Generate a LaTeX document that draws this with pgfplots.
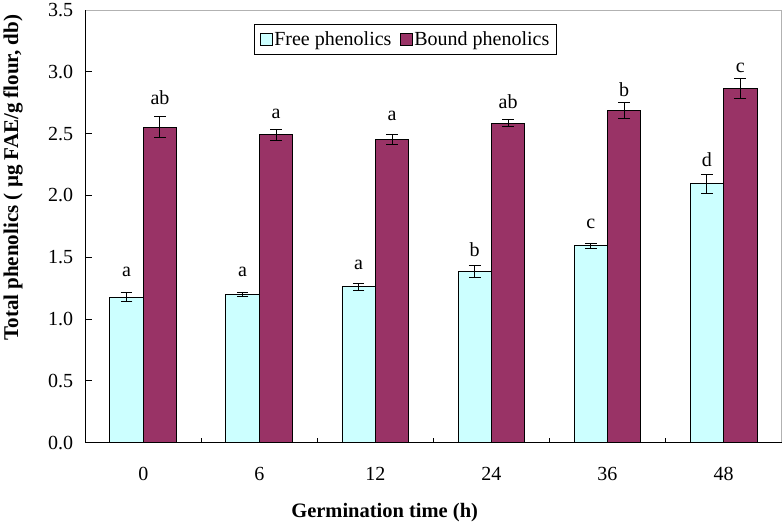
\documentclass[border=0pt]{standalone}
\usepackage{fontspec}
\setmainfont{Liberation Serif}
\usepackage{pgfplots}
\pgfplotsset{compat=1.18}
\usepackage{pgfplotstable}
\definecolor{freec}{HTML}{CCFFFF}
\definecolor{boundc}{HTML}{993366}

\pgfplotstableread{
x y e
-0.144 1.177 0.037
0.856 1.199 0.019
1.856 1.260 0.030
2.856 1.385 0.050
3.856 1.593 0.020
4.856 2.094 0.079
}\freetab

\pgfplotstableread{
x y e
0.144 2.553 0.088
1.144 2.490 0.045
2.144 2.455 0.040
3.144 2.586 0.027
4.144 2.689 0.065
5.144 2.866 0.078
}\boundtab

\pgfplotstableread{
x y l
-0.144 1.38 a
0.856 1.38 a
1.856 1.44 a
2.856 1.56 b
3.856 1.77 c
4.856 2.29 d
}\freelab

\pgfplotstableread{
x y l
0.144 2.79 ab
1.144 2.66 a
2.144 2.64 a
3.144 2.76 ab
4.144 2.86 b
5.144 3.03 c
}\boundlab

\begin{document}
\begin{tikzpicture}
\begin{axis}[
  width=694bp, height=431bp, scale only axis,
  xmin=-0.5, xmax=5.5, ymin=0, ymax=3.5,
  axis line style={draw=gray!60, line width=0.8bp},
  xtick={0,1,2,3,4,5}, xticklabels={0,6,12,24,36,48},
  major x tick style={draw=none},
  minor xtick={0.5,1.5,2.5,3.5,4.5},
  minor x tick style={black, line width=0.8bp},
  xtick pos=bottom, ytick pos=left,
  xtick align=inside, ytick align=inside,
  ytick={0,0.5,1,1.5,2,2.5,3,3.5},
  y tick style={black, line width=0.8bp},
  major tick length=6.5bp, minor tick length=5bp,
  /pgf/number format/assume math mode=true,
  y tick label style={/pgf/number format/fixed, /pgf/number format/fixed zerofill, /pgf/number format/precision=1, xshift=-8.5bp},
  tick label style={font=\fontsize{20}{24}\selectfont},
  xticklabel style={yshift=-21bp},
  ylabel={Total phenolics ( µg FAE/g flour, db)},
  ylabel style={at={(axis description cs:-0.1037,0.6125)}, anchor=center, font=\fontsize{21}{25}\selectfont\bfseries},
  xlabel={Germination time (h)},
  xlabel style={at={(axis description cs:0.430,-0.1624)}, anchor=center, font=\fontsize{20.5}{24}\selectfont\bfseries},
  legend columns=2,
  legend style={at={(axis description cs:0.2425,0.9675)}, anchor=north west, draw=black, line width=0.8bp,
    font=\fontsize{20}{24}\selectfont, inner xsep=5bp, inner ysep=5bp,
    /tikz/every even column/.append style={column sep=6bp}},
  legend image code/.code={\draw[#1, line width=0.8bp] (0bp,-6bp) rectangle (12bp,6bp);},
  after end axis/.code={\draw[black, line width=0.9bp] (rel axis cs:0,1) -- (rel axis cs:0,0) -- (rel axis cs:1,0);},
]
\addplot[ybar, bar width=0.288, bar shift=0, fill=freec, draw=black, line width=0.8bp,
  error bars/.cd, y dir=both, y explicit,
  error bar style={black, line width=1bp},
  error mark options={rotate=90, mark size=5.8bp, black, line width=1bp}]
  table[x=x, y=y, y error=e] \freetab;
\addlegendentry{Free phenolics}
\addplot[ybar, bar width=0.288, bar shift=0, fill=boundc, draw=black, line width=0.8bp,
  error bars/.cd, y dir=both, y explicit,
  error bar style={black, line width=1bp},
  error mark options={rotate=90, mark size=5.8bp, black, line width=1bp}]
  table[x=x, y=y, y error=e] \boundtab;
\addlegendentry{Bound phenolics}
\addplot[forget plot, draw=none, mark=none, nodes near coords, point meta=explicit symbolic,
  every node near coord/.append style={anchor=center, font=\fontsize{20}{24}\selectfont, text=black}]
  table[x=x, y=y, meta=l] \freelab;
\addplot[forget plot, draw=none, mark=none, nodes near coords, point meta=explicit symbolic,
  every node near coord/.append style={anchor=center, font=\fontsize{20}{24}\selectfont, text=black}]
  table[x=x, y=y, meta=l] \boundlab;
\end{axis}
\end{tikzpicture}
\end{document}
